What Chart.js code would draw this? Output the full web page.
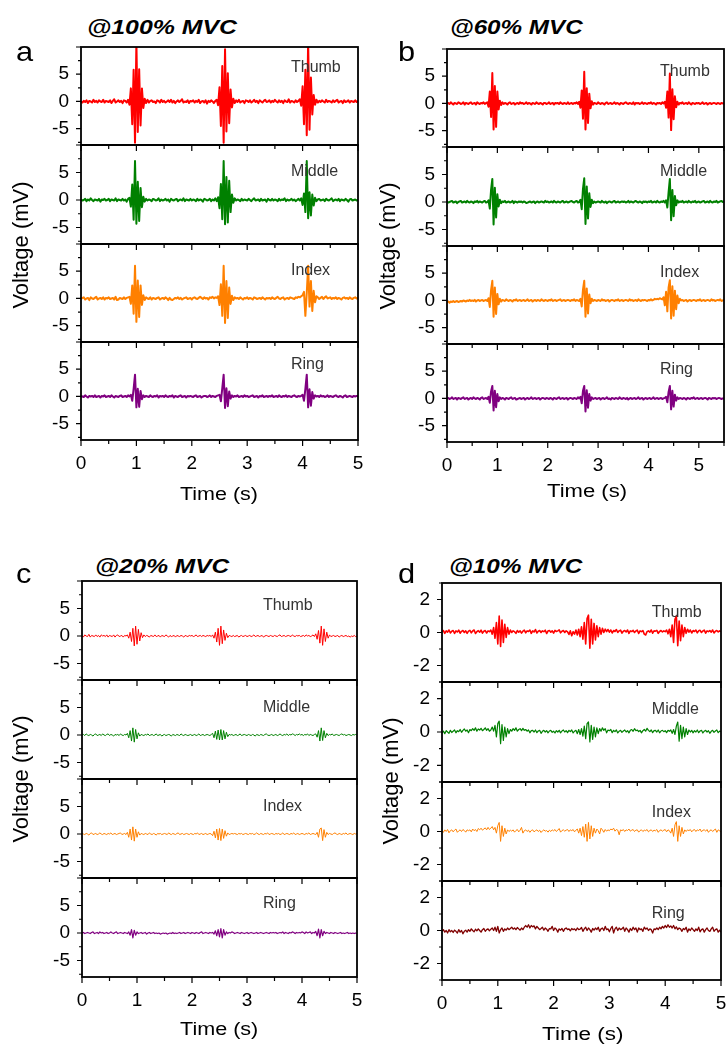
<!DOCTYPE html>
<html lang="en">
<head>
<meta charset="utf-8">
<title>EMG at different MVC levels</title>
<script src="https://cdn.jsdelivr.net/npm/chart.js@4.4.0/dist/chart.umd.min.js"></script>
<style>
  html, body { margin: 0; padding: 0; background: #fff; }
  body { position: relative; width: 728px; height: 1047px; overflow: hidden; font-family: "Liberation Sans", Arial, sans-serif; color: #000; }
  canvas { position: absolute; }
  .txt { position: absolute; white-space: nowrap; line-height: 1; }
  .title { font-weight: bold; font-style: italic; }
</style>
</head>
<body>
<script>
// sampling interval of the stored traces (s)
var timeStep = 0.025;

var fingerNames = ["Thumb", "Middle", "Index", "Ring"];
var timeTicks = [0, 1, 2, 3, 4, 5];
var voltTicksWide = [-5, 0, 5];
var voltTicksNarrow = [-2, 0, 2];

// ---- @100% MVC ----
var aThumb = [
  0, -0.2, 0.1, -0.1, 0.2, -0.3, 0.1, 0, -0.2, 0.3, -0.1, 0.1, -0.2, 0.2, 0, -0.1, 0.3, -0.2, 0.1, 0,
  -0.1, 0.2, -0.3, 0.1, 0.4, -0.2, 0, 0.2, -0.1, 0.1, -0.3, 0.2, 0.1, -0.2, 0.3, -0.6, 2.4, -4.2, 5.8, -7.6,
  11, -5.6, 5.9, -4.4, 2.4, -1.2, 0.5, -0.3, 0.3, -0.2, 0.1, 0.2, -0.1, 0, -0.3, 0.2, 0.1, -0.2, 0.3, -0.1,
  0.1, -0.2, 0, 0.2, -0.1, 0.3, -0.2, 0.1, -0.3, 0, 0.2, -0.1, 0.1, 0.4, -0.2, 0, -0.1, 0.2, -0.3, 0.1,
  0, 0.2, -0.2, 0.1, -0.1, 0.3, -0.3, 0, 0.1, -0.2, 0.2, -0.4, 0.1, -0.1, 0.2, 0, -0.3, 0.1, 0.3, -0.7,
  2.6, -4.5, 6.5, -7.6, 9.6, -5.5, 5.2, -4, 2.2, -1.1, 0.5, -0.3, 0.2, -0.1, 0.3, -0.2, 0, 0.1, -0.3, 0.2,
  0.1, -0.1, 0.2, -0.2, 0, 0.3, -0.1, 0.1, -0.3, 0.2, 0, -0.2, 0.1, 0.3, -0.1, 0, 0.2, -0.2, 0.1, -0.1,
  0.3, 0, -0.2, 0.2, -0.1, 0.1, -0.3, 0.2, 0, -0.1, 0.4, -0.2, 0.1, 0, -0.2, 0.2, -0.1, 0.1, 0.4, -0.8,
  2.8, -4.2, 5.8, -6.2, 11, -5.2, 4.4, -2.4, 1.2, -0.6, 0.3, -0.2, 0.1, -0.1, 0.2, 0, -0.2, 0.3, -0.1, 0.1,
  0, -0.2, 0.2, -0.1, 0.1, 0.3, -0.2, 0, 0.1, -0.3, 0.2, -0.1, 0, 0.2, -0.2, 0.1, 0, -0.1, 0.2, -0.1,
  0.1
];
var aMiddle = [
  0.1, -0.1, 0, 0.2, -0.2, 0.1, -0.1, 0.3, 0, -0.2, 0.1, 0, -0.1, 0.2, -0.3, 0.1, 0, 0.2, -0.1, 0,
  0.2, -0.2, 0.1, 0, -0.1, 0.3, -0.2, 0.1, 0, -0.1, 0.2, -0.1, 0.1, -0.3, 0.2, 0.4, -1.2, 2.8, -3.6, 7.1,
  -4.3, 3.3, -3.8, 2.2, -1.3, 0.6, -0.3, 0.2, -0.1, 0.1, 0, -0.2, 0.2, 0.1, -0.1, 0, 0.3, -0.2, 0.1, -0.1,
  0, 0.2, -0.1, 0.1, -0.3, 0.2, 0, -0.1, 0.1, 0.2, -0.2, 0, 0.1, -0.1, 0.3, -0.2, 0.1, 0, -0.1, 0.2,
  -0.1, 0.1, 0, -0.2, 0.2, -0.1, 0.1, 0, -0.3, 0.2, 0.1, -0.1, 0, 0.2, -0.2, 0.1, -0.1, 0.3, -0.2, 0.5,
  -1.5, 2.9, -3.5, 7.1, -4.4, 4.2, -4.1, 3.5, -2.2, 1.0, -0.5, 0.3, -0.1, 0.1, 0, -0.2, 0.2, -0.1, 0.1, 0,
  -0.1, 0.2, 0, -0.2, 0.1, 0.3, -0.1, 0, 0.1, -0.2, 0.2, -0.1, 0, 0.1, -0.3, 0.2, 0, -0.1, 0.2, -0.1,
  0.1, 0, -0.2, 0.2, -0.1, 0.1, 0, 0.3, -0.2, 0.1, -0.1, 0, 0.2, -0.1, 0.1, -0.2, 0, 0.2, -0.1, 0.3,
  -0.9, 1.2, -2.2, 7.1, -3.3, 1.4, -2.8, 1.0, -1.0, 0.4, -0.2, 0.1, 0.2, -0.1, 0, 0.1, -0.2, 0.2, 0, -0.1,
  0.1, 0.3, -0.2, 0, 0.1, -0.1, 0.2, -0.2, 0.1, 0, -0.1, 0.2, 0, -0.3, 0.1, 0.2, -0.1, 0, 0.1, -0.1,
  0
];
var aIndex = [
  -0.1, 0.1, 0.2, -0.2, 0, 0.1, -0.3, 0.2, 0, -0.1, 0.1, 0.3, -0.2, 0, 0.1, -0.1, 0.2, -0.2, 0.1, 0,
  0.2, -0.1, 0, 0.1, -0.2, 0.3, -0.3, -0.2, 0.1, 0, -0.1, 0.2, -0.1, 0.1, 0.2, 0.3, -1, 2.4, -2.8, 6,
  -4.3, 3.3, -3.4, 2.4, -1.2, 0.6, -0.3, 0.2, 0, -0.1, 0.2, -0.2, 0.1, 0, -0.1, 0.1, 0.2, -0.2, 0, 0.1,
  -0.1, 0.2, 0, -0.3, 0.1, -0.2, -0.3, -0.1, 0.1, 0, 0.2, -0.1, 0.1, -0.2, 0, 0.1, 0.2, -0.1, 0, 0.1,
  -0.2, 0.1, 0.2, 0, -0.1, 0.1, 0.3, 0.1, -0.1, 0.2, 0, 0.1, -0.2, 0.2, 0.1, 0.3, 0, 0.2, 0.1, 0.4,
  -1.2, 2.6, -3.2, 6, -4.5, 3.2, -3.6, 2.0, -1.0, 0.5, -0.3, 0.2, 0, 0.1, -0.1, 0.2, 0, -0.2, 0.1, 0,
  0.2, -0.1, 0.1, 0, -0.2, 0.2, 0.1, -0.1, 0, 0.1, -0.1, 0.2, 0, -0.2, 0.1, 0, 0.1, -0.1, 0.2, 0,
  -0.1, 0.1, 0.3, 0, -0.1, 0.1, 0.2, -0.2, 0, 0.1, -0.1, 0.2, 0.1, 0, -0.1, 0.2, 0.1, 0.3, 0.2, 0.4,
  0.6, 1.2, -3.2, 1.0, 6, -1.5, 3.2, -2.3, 1.4, -0.7, 0.4, 0.2, -0.1, 0.1, 0.3, -0.1, 0.2, 0.4, 0, 0.1,
  0.2, -0.1, 0.1, 0, 0.2, -0.1, 0.1, 0, -0.2, 0.1, 0.2, 0, 0.1, -0.1, 0.2, 0, -0.1, 0.1, 0.2, 0,
  0.1
];
var aRing = [
  0.1, 0, -0.1, 0.2, 0, -0.2, 0.1, 0, 0.1, -0.1, 0.2, -0.1, 0, 0.1, -0.2, 0.1, 0, 0.2, -0.1, 0,
  0.1, -0.1, 0.2, 0, -0.2, 0.1, 0, -0.1, 0.1, 0.2, -0.1, 0, 0.1, -0.1, 0.2, 0, 0.3, -0.8, 1.4, 4,
  -2, 1.4, -1.9, 1, -0.5, 0.2, -0.1, 0.1, 0, -0.1, 0.2, 0, -0.1, 0.1, 0, 0.2, -0.2, 0.1, 0, 0.1,
  -0.1, 0.2, 0, -0.1, 0.1, 0, 0.2, -0.2, 0.1, 0, -0.1, 0.1, 0.2, -0.1, 0, 0.1, -0.2, 0.1, 0, 0.1,
  0, -0.1, 0.1, 0.2, -0.1, 0, 0.1, -0.2, 0, 0.1, 0.1, -0.1, 0, 0.2, -0.1, 0.1, 0, -0.1, 0.1, 0.2,
  0.3, -0.9, 1.5, 4, -2.1, 1.5, -1.8, 0.9, -0.4, 0.2, -0.1, 0.1, 0, 0.2, -0.1, 0, 0.1, -0.1, 0.2, 0,
  0.1, -0.1, 0, 0.1, 0.2, -0.1, 0, 0.1, -0.2, 0.1, 0, 0.2, -0.1, 0, 0.1, -0.1, 0.1, 0, 0.2, -0.1,
  0, 0.1, -0.1, 0.2, 0, -0.1, 0.1, 0, 0.2, -0.1, 0.1, 0, -0.1, 0.1, 0.2, 0, -0.1, 0.1, 0, 0.1,
  0.3, -0.8, 1.4, 4, -2, 1.3, -1.7, 0.8, -0.4, 0.2, 0, 0.1, -0.1, 0.2, 0, 0.1, -0.1, 0, 0.2, -0.1,
  0.1, 0, -0.1, 0.1, 0.2, 0, -0.1, 0.1, 0, -0.2, 0.1, 0.2, -0.1, 0, 0.1, 0, -0.1, 0.1, 0, 0.1,
  0
];

// ---- @60% MVC (recorded to 5.5 s) ----
var bThumb = [
  0, 0.1, -0.1, 0.2, 0, -0.2, 0.1, 0, -0.1, 0.2, 0.1, -0.1, 0, 0.2, -0.2, 0.1, 0, -0.1, 0.1, 0.2,
  -0.1, 0, 0.1, -0.2, 0.2, 0, -0.1, 0.1, 0, 0.2, -0.1, 0.1, 0.2, -0.6, 2.2, -2.5, 5.6, -4.8, 3.2, -4.3,
  2.2, -1.1, 0.5, -0.3, 0.2, -0.1, 0.1, 0, -0.2, 0.1, 0.2, -0.1, 0, 0.1, -0.2, 0, 0.1, -0.1, 0.2, 0,
  0.1, -0.1, 0, 0.2, -0.1, 0.1, 0, -0.2, 0.1, 0, -0.1, 0.2, 0, -0.1, 0.1, 0, -0.2, 0.1, 0.1, -0.1,
  0, 0.2, -0.1, 0, 0.1, -0.2, 0.1, 0, 0.1, -0.1, 0.2, 0, -0.1, 0.1, 0, -0.1, 0.2, -0.1, 0, 0.1,
  -0.1, 0.1, 0, 0.2, -0.1, 0.3, -0.8, 2.4, -2.8, 5.8, -4.8, 2.8, -3.6, 1.8, -0.9, 0.4, -0.2, 0.1, 0, -0.1,
  0.2, 0, -0.1, 0.1, 0, -0.2, 0.1, 0.2, -0.1, 0, 0.1, -0.1, 0, 0.2, -0.1, 0.1, 0, -0.2, 0.1, 0,
  -0.1, 0.1, 0.2, 0, -0.1, 0.1, 0, -0.1, 0.2, -0.2, 0.1, 0, 0.1, -0.1, 0, 0.2, -0.1, 0.1, 0, -0.1,
  0.1, 0, 0.2, -0.1, 0.1, 0, -0.2, 0.1, 0, 0.1, -0.1, 0.2, 0, 0.3, -0.8, 2.2, -2.6, 5.5, -4.9, 2.6,
  -2.9, 1.3, -0.7, 0.3, -0.2, 0.1, 0, 0.2, -0.1, 0, 0.1, -0.1, 0.2, 0, -0.2, 0.1, 0, -0.1, 0.1, 0,
  0.1, -0.1, 0, 0.2, -0.1, 0, 0.1, -0.2, 0, 0.1, -0.1, 0, 0.1, 0, -0.1, 0.1, 0, -0.1, 0.1, 0,
  0
];
var bMiddle = [
  0.1, -0.1, 0, 0.1, 0.2, -0.1, 0, 0.1, -0.2, 0, 0.1, 0.2, -0.1, 0, 0.1, -0.1, 0.2, 0, -0.1, 0.1,
  0, -0.2, 0.1, 0, 0.2, -0.1, 0.1, 0, -0.1, 0.1, 0.2, -0.1, 0, 0.3, -1.2, 2.2, 4.2, -4.1, 2.6, -2.8,
  1.4, -0.8, 0.4, -0.2, 0.1, 0, 0.2, -0.1, 0, 0.1, -0.1, 0, 0.2, -0.2, 0.1, 0, -0.1, 0.1, 0, 0.1,
  -0.1, 0.1, 0, -0.2, -0.1, 0, 0.1, -0.1, 0, 0.1, -0.2, 0, 0.1, -0.1, 0, 0.1, 0, -0.1, 0.2, 0,
  0.1, -0.1, 0, 0.1, -0.1, 0.2, 0, -0.1, 0.1, 0, -0.1, 0.1, 0.2, -0.1, 0, 0.1, -0.1, 0, 0.1, 0.2,
  0, -0.1, 0.1, 0.2, -0.1, 0, 0.4, -1.3, 2.4, 4.3, -4, 2.8, -3, 1.6, -0.9, 0.4, -0.2, 0.1, -0.1, 0,
  0.1, 0, -0.1, 0.2, 0, -0.1, 0.1, -0.2, 0, 0.1, 0, -0.1, 0.1, 0.2, -0.1, 0, 0.1, -0.1, 0, 0.1,
  0, 0.1, -0.1, 0, 0.2, -0.1, 0.1, 0, -0.1, 0.1, 0.2, 0, -0.1, 0.1, 0, -0.2, 0.1, 0, 0.1, -0.1,
  0.1, 0, 0.2, -0.1, 0, 0.1, -0.1, 0.2, 0, -0.1, 0.1, 0, 0.2, -0.1, 0.3, -1.0, 1.8, 4.2, -3.3, 2.2,
  -2.6, 1.1, -0.6, 0.3, -0.1, 0.1, 0, 0.2, -0.1, 0, 0.1, -0.1, 0.2, 0, -0.1, 0.1, 0, 0.2, -0.1, 0,
  0.1, -0.1, 0, 0.1, 0.2, -0.1, 0, 0.1, -0.1, 0.2, 0, -0.1, 0.1, 0, 0.2, -0.1, 0, 0.1, 0.2, 0,
  0.1
];
var bIndex = [
  -0.3, -0.2, -0.4, -0.2, -0.3, -0.1, -0.3, -0.2, -0.1, -0.3, -0.2, -0.1, -0.2, 0, -0.1, -0.2, 0, -0.1, 0.1, -0.1,
  0, -0.1, 0.1, -0.2, 0, 0.1, -0.1, 0, 0.1, -0.1, 0, 0.1, -0.1, 0.4, -1.2, 1.9, 3.6, -3, 2.4, -2.5,
  1.2, -0.7, 0.3, -0.2, 0.1, 0, -0.1, 0.2, 0, -0.1, 0.1, 0, -0.2, 0.1, 0, 0.2, -0.1, 0, 0.1, -0.1,
  0, 0.1, -0.1, 0, 0.2, -0.1, 0, 0.1, -0.2, 0, 0.1, -0.1, 0.1, 0, -0.1, 0.2, 0, -0.1, 0.1, 0,
  -0.1, 0.1, 0, 0.2, -0.1, 0, 0.1, -0.1, 0, 0.1, 0.2, -0.1, 0, 0.1, -0.1, 0, 0.1, 0, -0.1, 0.1,
  0, 0.2, -0.1, 0.1, 0, -0.1, 0.3, -1.1, 2, 3.6, -3, 2.2, -2.4, 1.1, -0.5, 0.3, -0.1, 0.1, 0, -0.1,
  0.1, 0, -0.1, 0.2, 0, 0.1, -0.1, 0, 0.1, -0.2, 0, 0.1, 0, -0.1, 0.1, 0, 0.2, -0.1, 0, 0.1,
  -0.1, 0, 0.1, 0, -0.1, 0.2, 0, 0.1, -0.1, 0, 0.1, -0.1, 0.2, 0, -0.1, 0.1, 0, 0.1, 0, -0.1,
  0.1, 0, 0.2, 0, 0.1, 0.3, 0.2, 0.3, 0.2, 0.4, 0.3, 0.2, 0.6, -0.9, 1.6, -2.0, 2.4, 3.7, -3.3, 2.6,
  -2.8, 1.8, -1.6, 0.9, -0.5, 0.3, 0, 0.1, -0.1, 0, 0.1, -0.2, 0, 0.1, -0.1, 0, 0.1, 0, -0.1, 0.1,
  0, 0.2, -0.1, 0, 0.1, -0.1, 0, 0.1, 0, -0.1, 0.2, 0, 0.1, -0.1, 0, 0.1, 0, 0.2, -0.1, 0,
  0.1
];
var bRing = [
  0, 0.1, -0.1, 0, 0.2, -0.1, 0, 0.1, -0.2, 0.1, 0, -0.1, 0.1, 0.2, -0.1, 0, 0.1, -0.2, 0, 0.1,
  -0.1, 0.2, 0, -0.1, 0.1, 0, -0.2, 0.1, 0.2, -0.1, 0, 0.1, -0.1, 0.3, -0.8, 1.3, 2.3, -2.2, 1.4, -1.6,
  0.8, -0.5, 0.2, -0.1, 0.1, 0, -0.2, 0.1, 0, -0.1, 0.1, 0.2, -0.1, 0, 0.1, -0.2, -0.1, 0, 0.1, -0.1,
  0, 0.1, -0.2, 0, 0.1, -0.1, 0, 0.2, -0.1, 0, 0.1, -0.1, 0, 0.1, -0.2, 0, 0.1, 0, -0.1, 0.1,
  0, -0.1, 0.1, 0, -0.2, 0.1, 0, -0.1, 0.1, 0.2, -0.1, 0, 0.1, -0.1, 0, 0.1, -0.2, 0, 0.1, 0,
  -0.1, 0.1, 0, -0.1, 0.2, 0, 0.3, -0.9, 1.4, 2.3, -2.4, 1.5, -1.7, 0.8, -0.4, 0.2, -0.1, 0, 0.1, -0.1,
  0, 0.1, -0.2, 0, 0.1, -0.1, 0, 0.2, -0.1, 0, -0.2, 0.1, 0, -0.1, 0.1, 0, -0.1, 0.2, 0, -0.1,
  0.1, 0, -0.1, 0.1, -0.2, 0, 0.1, -0.1, 0, 0.1, -0.1, 0, 0.2, -0.1, 0, 0.1, -0.2, 0, 0.1, -0.1,
  0, 0.1, -0.1, 0, 0.2, -0.1, 0, 0.1, -0.1, 0, 0.1, -0.1, 0, 0.1, 0.3, -0.7, 1.2, 2.3, -2, 1.4,
  -1.5, 0.7, -0.4, 0.2, -0.1, 0.1, 0, -0.1, 0.1, 0, -0.2, 0.1, 0, -0.1, 0.1, 0, 0.2, -0.1, 0, 0.1,
  -0.1, 0, 0.1, -0.1, 0, 0.1, 0, -0.2, 0.1, 0, -0.1, 0.1, 0, 0.1, -0.1, 0, 0.1, 0, -0.1, 0,
  0
];

// ---- @20% MVC ----
var cThumb = [
  0.1, -0.2, 0.2, 0, -0.1, 0.3, -0.2, 0.1, 0, -0.1, 0.2, -0.1, 0.1, -0.2, 0.2, 0, 0.1, -0.1, 0.2, -0.2,
  0.1, 0, -0.1, 0.2, -0.2, 0.1, 0.2, -0.1, 0, 0.1, -0.2, 0.1, 0, 0.2, -0.4, 0.7, -1.0, 1.4, -1.8, 1.8,
  -1.5, 1.2, -0.9, 0.6, -0.3, 0.2, -0.1, 0.1, 0, -0.2, 0.1, 0, -0.1, 0.2, -0.1, 0, 0.1, -0.2, 0.1, 0,
  -0.1, 0.2, 0, -0.2, 0.1, -0.1, 0, 0.1, -0.2, 0.1, 0, -0.1, 0.1, 0, -0.2, 0.1, 0, -0.1, 0.1, 0,
  0.1, -0.1, 0, 0.2, -0.1, 0, 0.1, -0.1, 0.1, 0, -0.1, 0.1, 0, 0.1, -0.1, 0.2, -0.4, 0.7, -1.1, 1.4,
  -1.7, 1.8, -1.4, 1.1, -0.8, 0.5, -0.3, 0.1, 0, -0.1, 0.1, -0.1, 0, 0.1, -0.2, 0, 0.1, -0.1, 0, 0.1,
  -0.1, 0, 0.1, -0.1, 0, 0.2, -0.1, 0, 0.1, -0.1, 0, 0.1, -0.2, 0, 0.1, 0, -0.1, 0.1, 0, -0.1,
  0.1, 0, -0.1, 0.1, 0.2, -0.1, 0, 0.1, -0.1, 0, 0.1, 0, -0.1, 0.2, 0, -0.1, 0.1, 0, 0.1, -0.1,
  0, 0.1, -0.1, 0.2, 0, 0.1, -0.1, 0, 0.2, -0.1, 0.4, -0.6, 1.0, -1.3, 1.8, -1.7, 1.3, -1.0, 0.7, -0.4,
  0.2, -0.1, 0, 0.1, -0.1, 0, 0.1, -0.2, 0, 0.1, -0.1, 0, 0.1, -0.1, 0, -0.2, 0, -0.1, 0.1, -0.1,
  0
];
var cMiddle = [
  0, 0.1, -0.1, 0.2, 0, -0.1, 0.1, 0, -0.2, 0.1, 0.2, -0.1, 0, 0.1, -0.1, 0.2, 0, -0.1, 0.1, 0.2,
  -0.1, 0.1, 0, -0.2, 0.1, 0, 0.1, -0.1, 0.2, 0, -0.1, 0.1, 0, 0.3, -0.5, 0.8, -1.1, 1.3, -1.3, 1.0,
  -0.7, 0.4, -0.2, 0.1, 0, -0.1, 0.1, 0, 0.2, -0.1, 0, 0.1, -0.1, 0, 0.2, -0.1, 0, 0.1, -0.2, 0,
  0.1, -0.1, 0, 0.1, 0, -0.2, 0.1, 0, -0.1, 0.1, 0, -0.1, 0.2, 0, -0.1, 0.1, 0, -0.1, 0, 0.1,
  -0.1, 0, 0.1, -0.1, 0, 0.2, -0.1, 0, 0.1, -0.1, 0, 0.1, 0, -0.1, 0.1, 0.3, -0.5, 0.7, -0.8, 0.9,
  -0.9, 1.0, -0.9, 0.8, -0.7, 0.5, -0.3, 0.1, 0, 0.1, -0.1, 0, 0.1, -0.1, 0, 0.2, -0.1, 0, 0.1, 0,
  -0.1, 0.1, 0, -0.1, 0.1, 0, -0.2, 0.1, 0, -0.1, 0.1, 0, -0.1, 0.1, 0.2, 0, -0.1, 0, 0.1, -0.1,
  0, 0.1, -0.1, 0, 0.2, 0, -0.1, 0.1, 0, 0.2, -0.1, 0.1, 0, 0.2, 0.1, -0.1, 0.1, 0, 0.2, 0,
  0.1, -0.1, 0.1, 0, 0.2, -0.1, 0.1, 0, -0.1, 0.1, 0.2, -0.4, 0.8, -1.1, 1.3, -1.0, 0.8, -0.5, 0.3, -0.1,
  0.1, 0, 0.2, -0.1, 0, 0.1, 0, -0.1, 0.1, 0.2, 0, 0.1, -0.1, 0, 0.1, 0, -0.1, 0.1, 0, 0.1,
  0
];
var cIndex = [
  0.1, 0, -0.1, 0.1, 0, -0.2, 0.1, 0.2, -0.1, 0, 0.1, -0.1, 0, 0.2, 0, -0.1, 0.1, 0, -0.1, 0.1,
  0, 0.2, -0.1, 0, 0.1, -0.1, 0, 0.1, 0.2, -0.1, 0, 0.1, -0.1, 0.3, -0.6, 0.9, -1.1, 1.3, -1.3, 0.9,
  -0.6, 0.4, -0.2, 0.1, 0, -0.1, 0.1, 0, -0.1, 0.2, 0, -0.1, 0.1, 0, -0.2, 0.1, 0, 0.1, -0.1, 0,
  0.1, 0, -0.1, 0.2, 0, -0.1, 0.1, 0, -0.1, 0.1, 0.2, -0.1, 0, 0.1, -0.1, 0, 0.1, 0, -0.1, 0.1,
  0, -0.1, 0.1, 0, 0.2, -0.1, 0, 0.1, -0.1, 0, 0.1, -0.1, 0, 0.1, 0, -0.3, 0.5, -0.7, 0.9, -1.1,
  1.0, -1.2, 0.9, -0.8, 0.6, -0.4, 0.2, -0.1, 0, 0.1, 0, 0.1, 0, -0.1, 0.1, 0, 0.1, -0.1, 0, 0.1,
  0, -0.1, 0.1, 0, 0.1, -0.1, 0, 0.2, 0, -0.1, 0.1, 0, -0.1, 0.1, 0, 0.2, -0.1, 0, 0.1, 0,
  -0.1, 0.1, 0, 0.1, -0.1, 0, 0.2, -0.1, 0, 0.1, 0, -0.1, 0.1, 0, 0.2, -0.1, 0, 0.1, -0.1, 0,
  0.1, 0, -0.1, 0.1, 0, 0.2, -0.1, 0, 0.1, 0, -0.1, 0.3, -0.6, 0.9, 1.1, -1.2, 0.8, -0.6, 0.3, -0.1,
  0.1, 0, -0.1, 0.1, 0.2, 0, -0.1, 0.1, 0, -0.1, 0.1, 0, 0.2, -0.1, 0, 0.1, 0, -0.1, 0.1, 0,
  0.1
];
var cRing = [
  0, 0.1, -0.1, 0, 0.1, 0, -0.1, 0.1, 0.2, -0.1, 0, 0.1, -0.1, 0.2, 0, 0.1, -0.1, 0, 0.1, -0.1,
  0, 0.2, 0, -0.1, 0.1, 0.2, -0.1, 0, 0.1, 0, -0.1, 0.1, 0, -0.1, 0.2, -0.4, 0.6, -0.9, 0.5, -0.4,
  0.2, -0.1, 0, 0.1, -0.1, 0, 0.1, -0.2, 0, 0.1, -0.1, 0, 0.1, -0.1, 0, -0.1, 0, -0.2, -0.1, 0,
  -0.1, 0, -0.2, -0.1, 0, -0.1, 0.1, -0.1, 0, -0.1, 0, 0.1, -0.1, 0, 0.1, -0.1, 0, 0.1, 0, -0.1,
  0.1, 0, -0.1, 0.1, 0, -0.1, 0.1, 0.2, -0.1, 0, 0.1, 0, -0.1, 0.1, 0, 0.1, -0.2, 0.4, -0.5, 0.6,
  -0.7, 0.8, -0.9, 0.6, -0.4, 0.2, -0.1, 0.1, 0, 0.2, 0.1, -0.1, 0, 0.1, 0, -0.1, 0.1, 0, -0.1, 0,
  0.1, -0.1, 0, 0.1, 0, -0.1, 0, 0.1, -0.1, 0, 0.1, 0, -0.1, 0, 0.1, 0, -0.1, 0.1, 0, 0.1,
  0, 0.1, -0.1, 0, 0.1, 0, 0.2, -0.1, 0.1, 0, -0.1, 0.1, 0, 0.2, 0.1, -0.1, 0.1, 0, 0.1, 0,
  0.2, 0.1, -0.1, 0.2, 0, 0.1, 0.2, -0.1, 0.1, 0, 0.3, -0.5, 0.7, -0.9, 0.6, -0.5, 0.3, -0.1, 0.1, 0,
  -0.1, 0.1, 0, -0.1, 0.1, 0, -0.1, 0, 0.1, -0.1, 0, -0.1, 0, 0.1, -0.1, 0, -0.1, 0, -0.1, 0,
  -0.1
];

// ---- @10% MVC ----
var dThumb = [
  0.05, 0.12, -0.05, 0.1, 0.02, 0.15, -0.03, 0.08, 0.12, -0.06, 0.1, 0.03, 0.14, -0.04, 0.07, 0.12, 0, 0.1, -0.05, 0.08,
  0.13, -0.02, 0.09, 0.15, -0.06, 0.05, 0.11, 0.02, 0.14, -0.04, 0.08, 0.12, -0.03, 0.1, 0.05, 0.15, -0.1, 0.3, -0.35, 0.6,
  -0.7, 1.0, -0.85, 0.75, -0.6, 0.5, -0.3, 0.3, -0.1, 0.15, 0, 0.1, 0.05, -0.05, 0.12, 0.02, 0.1, -0.04, 0.08, 0.14,
  -0.02, 0.1, 0.06, 0.15, -0.05, 0.1, 0.03, 0.18, -0.03, 0.08, 0.12, 0, 0.1, 0.05, 0.14, -0.06, 0.09, 0.12, 0.02, 0.1,
  -0.04, 0.13, 0.06, 0.1, 0.16, -0.02, 0.08, 0.12, 0, 0.1, 0.04, -0.12, 0.1, -0.2, 0.05, -0.1, 0.15, -0.15, 0.2, -0.25,
  0.35, -0.4, 0.6, -0.7, 0.85, 1.05, -0.95, 0.8, -0.7, 0.55, -0.45, 0.4, -0.25, 0.3, -0.1, 0.25, 0, 0.2, 0.05, 0.18,
  0.02, 0.15, -0.03, 0.12, 0.06, 0.18, 0, 0.1, 0.14, -0.04, 0.08, 0.12, 0.03, 0.15, -0.05, 0.1, 0.06, 0.13, 0, 0.09,
  0.14, -0.06, 0.1, 0.05, 0.12, -0.1, -0.15, 0.05, 0.1, 0.02, 0.15, -0.04, 0.1, 0.08, 0.13, -0.05, 0.06, 0.12, 0.03, 0.1,
  0.05, 0.15, -0.08, 0.2, -0.25, 0.45, -0.6, 0.8, 1.0, -0.8, 0.7, -0.5, 0.45, -0.25, 0.3, -0.05, 0.2, 0.02, 0.15, -0.03,
  0.12, 0.06, 0.15, -0.02, 0.1, 0.13, 0, 0.09, 0.14, -0.04, 0.1, 0.05, 0.12, 0.02, 0.15, -0.03, 0.08, 0.12, 0.04, 0.1,
  0.05
];
var dMiddle = [
  -0.05, 0.05, -0.1, 0.08, 0, -0.08, 0.1, -0.03, 0.05, 0.12, -0.05, 0.08, 0.02, 0.15, -0.02, 0.1, 0.18, 0.05, 0.12, -0.04,
  0.15, 0.08, 0.2, 0.1, 0.25, 0.05, 0.18, 0.12, 0.22, 0.08, 0.15, 0.25, 0.1, 0.2, 0.05, 0.12, 0.3, 0.05, 0.4, -0.3,
  0.5, 0.65, -0.7, 0.45, -0.5, 0.3, -0.3, 0.2, -0.1, 0.15, 0.05, 0.2, 0.1, 0.25, 0.05, 0.15, 0.2, 0.08, 0.22, 0.1,
  0.15, 0.05, 0.12, -0.05, 0.08, 0.1, 0, 0.12, -0.04, 0.06, 0.1, -0.08, 0.04, 0.1, 0, 0.08, -0.05, 0.06, 0.1, -0.02,
  0.05, -0.06, 0.08, 0, 0.1, -0.05, 0.06, 0.12, 0, 0.08, -0.04, 0.1, 0.02, 0.12, -0.06, 0.05, 0.1, -0.1, 0.15, -0.15,
  0.2, -0.25, 0.35, -0.4, 0.5, 0.6, -0.6, 0.4, -0.45, 0.3, -0.3, 0.25, -0.1, 0.2, 0.05, 0.25, 0.1, 0.2, -0.05, 0.12,
  0.08, 0.15, -0.04, 0.1, 0.02, 0.12, -0.06, 0.05, 0.1, -0.02, 0.06, 0.12, 0, 0.08, -0.05, 0.1, 0.15, 0.04, 0.2, 0.08,
  0.12, 0.02, 0.1, -0.05, 0.08, 0.15, 0.05, 0.22, 0.1, 0.02, 0.12, -0.04, 0.08, 0.1, 0, 0.12, -0.05, 0.06, 0.1, 0.02,
  0.08, -0.04, 0.1, 0.04, 0.12, -0.08, 0.15, -0.15, 0.35, 0.6, -0.55, 0.4, -0.4, 0.3, -0.3, 0.2, -0.15, 0.12, 0, 0.1,
  -0.05, 0.08, 0, 0.12, -0.04, 0.06, 0.1, -0.06, 0.05, 0.1, 0, 0.08, -0.08, 0.04, 0.1, -0.02, 0.06, 0.12, -0.04, 0.05,
  0.02
];
var dIndex = [
  0.05, -0.05, 0.1, 0, 0.12, -0.08, 0.05, 0.1, -0.02, 0.08, 0.15, -0.05, 0.04, 0.1, 0, 0.12, 0.06, -0.04, 0.1, 0.05,
  0.1, -0.02, 0.15, 0.05, 0.12, 0, 0.18, 0.1, 0.2, 0.08, 0.15, 0.22, 0.1, 0.25, 0.12, 0.2, 0.3, 0.1, 0.25, -0.1,
  0.35, 0.55, -0.6, 0.35, -0.3, 0.2, -0.15, 0.1, 0, 0.08, 0.02, 0.1, -0.04, 0.06, 0.12, -0.02, 0.08, 0.25, -0.1, 0.05,
  0.1, 0, 0.08, -0.05, 0.06, 0.1, -0.02, 0.05, 0.1, 0, 0.08, -0.06, 0.04, 0.1, 0.02, 0.06, -0.04, 0.08, 0, 0.1,
  0.04, 0.12, 0, 0.08, 0.18, -0.04, 0.06, 0.1, 0.02, 0.08, 0.12, 0, 0.1, 0.05, 0.12, -0.02, 0.08, 0.15, -0.1, 0.2,
  -0.25, 0.3, -0.35, 0.45, -0.6, 0.55, -0.45, 0.35, -0.3, 0.2, -0.1, 0.15, 0.05, -0.15, 0.2, 0.1, -0.05, 0.12, 0.02, 0.1,
  0.05, 0.15, 0.1, 0.2, 0.02, 0.12, 0.08, -0.2, 0.1, 0.05, 0.12, 0, 0.1, 0.06, 0.15, 0.02, 0.08, 0.12, 0, 0.08,
  0.1, -0.04, 0.06, 0.1, 0, 0.08, 0.05, 0.12, -0.02, 0.06, 0.1, 0, 0.08, 0.04, 0.12, -0.05, 0.06, 0.1, 0.02, 0.08,
  0.12, -0.02, 0.1, 0.05, -0.1, 0.2, -0.3, 0.4, 0.6, -0.6, 0.35, -0.3, 0.25, -0.15, 0.1, 0, 0.1, 0.05, 0.12, -0.02,
  0.08, 0.12, 0, 0.1, 0.05, 0.15, -0.02, 0.08, 0.1, 0.02, 0.12, -0.05, 0.06, 0.1, 0, 0.08, 0.15, -0.05, 0.1, 0.05,
  -0.05
];
var dRing = [
  -0.05, 0.05, -0.1, 0, -0.15, 0.05, -0.08, 0, -0.12, 0.02, -0.05, -0.15, 0.05, -0.1, 0, -0.2, -0.05, 0.02, -0.1, 0.05,
  -0.05, 0.1, 0, -0.08, 0.08, -0.02, 0.1, 0, -0.1, 0.05, 0.12, -0.05, 0.05, 0.1, -0.02, 0.08, 0.15, 0, 0.2, -0.05,
  0.25, -0.15, 0.05, 0.15, -0.05, 0.1, 0.02, 0.15, 0.05, 0.12, 0.2, 0.08, 0.15, 0.05, 0.18, 0.1, 0.02, 0.15, 0.05, 0.2,
  0.3, 0.2, 0.35, 0.15, 0.3, 0.22, 0.28, 0.1, 0.25, 0.15, 0.05, 0.12, 0.2, 0.02, 0.15, 0.08, -0.05, 0.12, 0.1, 0.25,
  0, 0.15, 0.08, -0.1, 0.1, 0.02, 0.12, -0.05, 0.1, 0.15, 0.05, 0.1, -0.02, 0.12, 0.05, 0.1, 0, 0.15, 0.05, 0.08,
  0.18, -0.05, 0.1, 0.2, 0, 0.15, 0.05, -0.1, 0.12, 0.02, 0.15, 0.05, 0.2, -0.05, 0.1, 0.15, 0, 0.25, 0.05, 0.1,
  -0.08, 0.12, 0.25, -0.15, 0.1, 0.2, 0, 0.15, 0.05, 0.1, 0.2, -0.05, 0.15, 0.05, -0.1, 0.12, 0, 0.2, 0.05, 0.15,
  -0.1, 0.15, 0.05, 0.1, -0.05, 0.2, 0.08, 0.15, 0, 0.1, 0.05, -0.15, 0.1, 0.05, 0.15, 0.05, 0.2, 0.1, 0.25, 0.15,
  0.3, 0.18, 0.35, 0.2, 0.28, 0.15, 0.3, 0.1, 0.22, 0.05, 0.15, 0.1, -0.05, 0.12, 0.05, 0.2, -0.1, 0.1, 0, 0.15,
  0.05, -0.05, 0.1, 0, 0.2, -0.08, 0.05, 0.1, -0.1, 0.05, 0.15, 0, -0.05, 0.1, 0.2, -0.05, 0.05, 0.1, -0.1, 0.02,
  -0.1
];

var panels = [
  { letter: "a", title: "@100% MVC", xMax: 5, yMin: -8, yMax: 10, yTicks: voltTicksWide, yMajor: 5, yMinor: 2.5,
    traces: [aThumb, aMiddle, aIndex, aRing],
    colors: ["#ff0000", "#008000", "#ff8000", "#800080"], widths: [2, 2, 2, 2] },
  { letter: "b", title: "@60% MVC", xMax: 5.5, yMin: -8, yMax: 10, yTicks: voltTicksWide, yMajor: 5, yMinor: 2.5,
    traces: [bThumb, bMiddle, bIndex, bRing],
    colors: ["#ff0000", "#008000", "#ff8000", "#800080"], widths: [2, 2, 2, 2] },
  { letter: "c", title: "@20% MVC", xMax: 5, yMin: -8, yMax: 10, yTicks: voltTicksWide, yMajor: 5, yMinor: 2.5,
    traces: [cThumb, cMiddle, cIndex, cRing],
    colors: ["#ff0000", "#008000", "#ff8000", "#800080"], widths: [1, 1, 1, 1.2] },
  { letter: "d", title: "@10% MVC", xMax: 5, yMin: -3, yMax: 3, yTicks: voltTicksNarrow, yMajor: 2, yMinor: 1,
    traces: [dThumb, dMiddle, dIndex, dRing],
    colors: ["#ff0000", "#008000", "#ff8000", "#800000"], widths: [1.6, 1.2, 1, 1.3] }
];

// where each panel sits on the page (px)
var layout = [
  { left: 81, top: 47, width: 277, height: 393,
    titleX: 87, titleBase: 33.5, titleW: 150, letterX: 16, letterBase: 62,
    voltX: 21.4, voltY: 245, timeX: 219, timeBase: 500.7, timeW: 78,
    labelT: 3.79, labelDy: [25, 30.7, 30.6, 26.7] },
  { left: 447, top: 49, width: 277, height: 393,
    titleX: 450, titleBase: 33.5, titleW: 132.7, letterX: 398, letterBase: 61.7,
    voltX: 388, voltY: 245.5, timeX: 586.7, timeBase: 497.3, timeW: 80,
    labelT: 4.23, labelDy: [27, 29, 31.4, 30] },
  { left: 82, top: 581, width: 275, height: 396,
    titleX: 95, titleBase: 572.5, titleW: 134.3, letterX: 16, letterBase: 583.3,
    voltX: 21.4, voltY: 779, timeX: 219.2, timeBase: 1035, timeW: 78.3,
    labelT: 3.29, labelDy: [29.3, 31.7, 32, 30] },
  { left: 442, top: 583, width: 279, height: 397,
    titleX: 449.3, titleBase: 572.5, titleW: 133.4, letterX: 398, letterBase: 584,
    voltX: 391, voltY: 781, timeX: 582.5, timeBase: 1040.7, timeW: 81.6,
    labelT: 3.76, labelDy: [34, 31.7, 35, 36.7] }
];

var GUTTER_LEFT = 60, GUTTER_RIGHT = 6, GUTTER_TOP = 2;
var FONT = '"Liberation Sans", Arial, sans-serif';

Chart.defaults.font.family = FONT;

// frame, outward ticks (major + minor) and the finger name of each strip
var stripFrame = {
  id: "stripFrame",
  afterDraw: function (chart, args, opts) {
    var ctx = chart.ctx;
    var area = chart.chartArea;
    var xs = chart.scales.x;
    var ys = chart.scales.y;
    var i, v, px, py, major;

    ctx.save();
    ctx.strokeStyle = "#000";
    ctx.lineWidth = 1.2;
    ctx.beginPath();
    var first = Math.ceil(ys.min / opts.yMinor - 1e-9);
    var last = Math.floor(ys.max / opts.yMinor + 1e-9);
    for (i = first; i <= last; i++) {
      v = i * opts.yMinor;
      major = Math.abs(v / opts.yMajor - Math.round(v / opts.yMajor)) < 1e-6;
      py = ys.getPixelForValue(v);
      ctx.moveTo(area.left, py);
      ctx.lineTo(area.left - (major ? 5 : 3), py);
    }
    var steps = Math.round(xs.max / 0.5);
    for (i = 0; i <= steps; i++) {
      v = i * 0.5;
      major = i % 2 === 0;
      px = xs.getPixelForValue(v);
      ctx.moveTo(px, area.bottom);
      ctx.lineTo(px, area.bottom + (major ? 6 : 4));
    }
    ctx.stroke();

    ctx.lineWidth = 1.8;
    ctx.strokeRect(area.left, area.top, area.right - area.left, area.bottom - area.top);

    ctx.fillStyle = "#333";
    ctx.font = "16px " + FONT;
    ctx.textBaseline = "alphabetic";
    ctx.textAlign = "left";
    ctx.fillText(opts.label, xs.getPixelForValue(opts.labelT), area.top + opts.labelDy);
    ctx.restore();
  }
};

function makeStrip(panel, box, k) {
  var rowH = box.height / 4;
  var top = Math.round(box.top + k * rowH);
  var bottom = Math.round(box.top + (k + 1) * rowH);
  var isLast = k === 3;
  var axisH = isLast ? 40 : 10;

  var canvas = document.createElement("canvas");
  canvas.width = box.width + GUTTER_LEFT + GUTTER_RIGHT;
  canvas.height = GUTTER_TOP + (bottom - top) + axisH;
  canvas.style.width = canvas.width + "px";
  canvas.style.height = canvas.height + "px";
  canvas.style.left = (box.left - GUTTER_LEFT) + "px";
  canvas.style.top = (top - GUTTER_TOP) + "px";
  document.body.appendChild(canvas);

  var values = panel.traces[k];
  var points = values.map(function (v, i) {
    return { x: i * timeStep, y: v };
  });
  var tickFont = { family: FONT, size: 19 };

  return new Chart(canvas, {
    type: "line",
    data: {
      datasets: [{
        data: points,
        borderColor: panel.colors[k],
        borderWidth: panel.widths[k],
        borderJoinStyle: "round",
        pointRadius: 0,
        tension: 0,
        fill: false
      }]
    },
    options: {
      responsive: false,
      animation: false,
      events: [],
      parsing: false,
      layout: { padding: { left: 0, top: GUTTER_TOP, right: GUTTER_RIGHT, bottom: 0 } },
      plugins: {
        legend: { display: false },
        tooltip: { enabled: false },
        stripFrame: {
          label: fingerNames[k],
          labelT: box.labelT,
          labelDy: box.labelDy[k],
          yMajor: panel.yMajor,
          yMinor: panel.yMinor
        }
      },
      scales: {
        x: {
          type: "linear",
          min: 0,
          max: panel.xMax,
          ticks: { display: isLast, color: "#000", font: tickFont, padding: 0, maxRotation: 0 },
          grid: { display: true, drawOnChartArea: false, drawTicks: true, tickLength: 12, color: "rgba(0,0,0,0)" },
          border: { display: false },
          afterBuildTicks: function (scale) {
            scale.ticks = timeTicks.map(function (v) { return { value: v }; });
          },
          afterFit: function (scale) {
            scale.height = axisH;
            scale.paddingLeft = 0;
            scale.paddingRight = 0;
          }
        },
        y: {
          type: "linear",
          min: panel.yMin,
          max: panel.yMax,
          ticks: { color: "#000", font: tickFont, padding: 0 },
          grid: { display: true, drawOnChartArea: false, drawTicks: true, tickLength: 12, color: "rgba(0,0,0,0)" },
          border: { display: false },
          afterBuildTicks: function (scale) {
            scale.ticks = panel.yTicks.map(function (v) { return { value: v }; });
          },
          afterFit: function (scale) {
            scale.width = GUTTER_LEFT;
            scale.paddingTop = 0;
            scale.paddingBottom = 0;
          }
        }
      }
    },
    plugins: [stripFrame]
  });
}

// text placed by its baseline; optionally stretched to a width
function placeText(str, cls, x, baseline, size, targetW, anchor) {
  var el = document.createElement("div");
  el.className = "txt " + cls;
  el.textContent = str;
  el.style.fontSize = size + "px";
  document.body.appendChild(el);
  var w = el.getBoundingClientRect().width;
  var sx = targetW ? targetW / w : 1;
  el.style.transformOrigin = "0 0";
  el.style.transform = "scaleX(" + sx + ")";
  el.style.left = (anchor === "center" ? x - w * sx / 2 : x) + "px";
  el.style.top = (baseline - 0.8465 * size) + "px";
  return el;
}

function placeVertical(str, cx, cy, size) {
  var el = document.createElement("div");
  el.className = "txt";
  el.textContent = str;
  el.style.fontSize = size + "px";
  el.style.left = cx + "px";
  el.style.top = cy + "px";
  el.style.transform = "translate(-50%, -50%) rotate(-90deg)";
  document.body.appendChild(el);
}

panels.forEach(function (panel, p) {
  var box = layout[p];
  for (var k = 0; k < 4; k++) {
    makeStrip(panel, box, k);
  }
  placeText(panel.title, "title", box.titleX, box.titleBase, 20, box.titleW, "left");
  var letter = placeText(panel.letter, "", box.letterX, box.letterBase, 28, 0, "left");
  letter.style.transform = "scaleX(1.1)";
  placeText("Time (s)", "", box.timeX, box.timeBase, 18, box.timeW, "center");
  placeVertical("Voltage (mV)", box.voltX, box.voltY, 22);
});
</script>
</body>
</html>
